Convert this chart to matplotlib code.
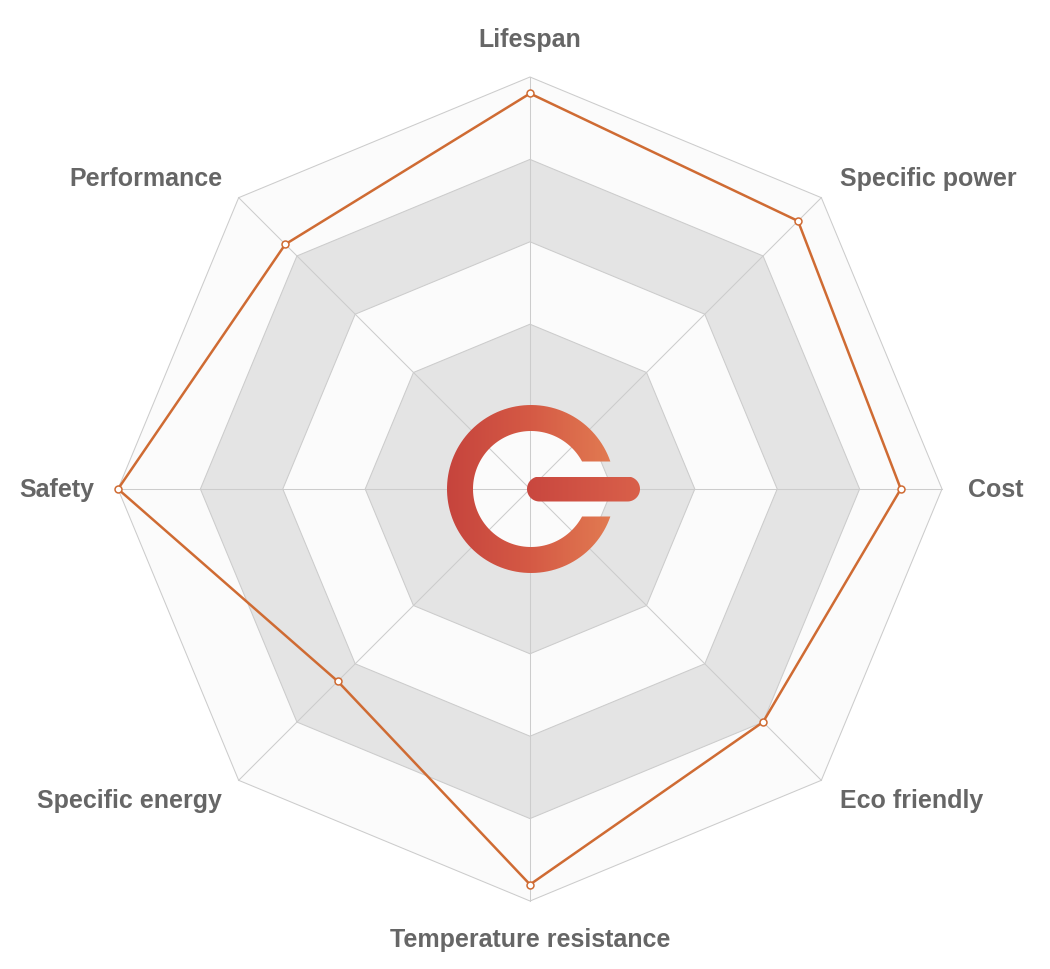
import numpy as np
import matplotlib
matplotlib.use('Agg')
import matplotlib.pyplot as plt
from matplotlib.path import Path
from matplotlib.patches import PathPatch, Polygon
from matplotlib.colors import LinearSegmentedColormap

# radar indicators, clockwise from the top
indicators = ['Lifespan', 'Specific power', 'Cost', 'Eco friendly',
              'Temperature resistance', 'Specific energy', 'Safety', 'Performance']
values = [96, 92, 90, 80, 96, 66, 100, 84]
max_value = 100
levels = 5

plt.rcParams['font.family'] = ['Liberation Sans', 'DejaVu Sans']

# figure size in pixels
my_dpi = 100
fig = plt.figure(figsize=(1050 / my_dpi, 970 / my_dpi), dpi=my_dpi)
ax = fig.add_axes([0, 0, 1, 1])
px = 412 / max_value  # pixels per value unit
ax.set_xlim(-530 / px, 520 / px)
ax.set_ylim(-480 / px, 490 / px)
ax.axis('off')

n = len(indicators)
angles = np.deg2rad(90 - 360 / n * np.arange(n))
cos, sin = np.cos(angles), np.sin(angles)

grid_color = '#cccccc'
line_color = '#cf6b33'

# split areas + split lines, outer ring first
band_colors = ['#fbfbfb', '#e4e4e4']
for k in range(levels, 0, -1):
    r = max_value * k / levels
    ax.add_patch(Polygon(np.column_stack([r * cos, r * sin]), closed=True,
                         facecolor=band_colors[(k - 1) % 2], edgecolor=grid_color,
                         lw=0.75, zorder=1))

# axis lines
for c, s in zip(cos, sin):
    ax.plot([0, max_value * c], [0, max_value * s], color=grid_color, lw=0.75, zorder=2)

# center logo: open ring + rounded bar, filled with gradients
r_out, r_in, cut, cx = 84 / px, 58 / px, 27.5 / px, 1 / px
a_out = np.degrees(np.arcsin(cut / r_out))
a_in = np.degrees(np.arcsin(cut / r_in))
t_out = np.deg2rad(np.linspace(a_out, 360 - a_out, 120))
t_in = np.deg2rad(np.linspace(360 - a_in, a_in, 120))
ring_xy = np.vstack([np.column_stack([cx + r_out * np.cos(t_out), r_out * np.sin(t_out)]),
                     np.column_stack([cx + r_in * np.cos(t_in), r_in * np.sin(t_in)])])
ring_path = Path(np.vstack([ring_xy, ring_xy[:1]]), closed=True)
ring_patch = PathPatch(ring_path, facecolor='none', edgecolor='none', zorder=3)
ax.add_patch(ring_patch)
ring_cmap = LinearSegmentedColormap.from_list('ring', ['#c6443d', '#d55a45', '#e27c52'])
im = ax.imshow(np.linspace(0, 1, 256)[None, :], cmap=ring_cmap, aspect='auto',
               extent=[cx - r_out, cx + r_out, -r_out, r_out], interpolation='bicubic',
               zorder=3)
im.set_clip_path(ring_patch)

bar_x0, bar_x1, bar_h = -3 / px, 110 / px, 25 / px
rr = bar_h / 2
t_l = np.deg2rad(np.linspace(90, 270, 40))
t_r = np.deg2rad(np.linspace(-90, 90, 40))
bar_xy = np.vstack([np.column_stack([bar_x0 + rr + rr * np.cos(t_l), rr * np.sin(t_l)]),
                    np.column_stack([bar_x1 - rr + rr * np.cos(t_r), rr * np.sin(t_r)])])
bar_patch = PathPatch(Path(np.vstack([bar_xy, bar_xy[:1]]), closed=True),
                      facecolor='none', edgecolor='none', zorder=3)
ax.add_patch(bar_patch)
bar_cmap = LinearSegmentedColormap.from_list('bar', ['#c9473f', '#d9604a'])
im2 = ax.imshow(np.linspace(0, 1, 256)[None, :], cmap=bar_cmap, aspect='auto',
                extent=[bar_x0, bar_x1, -rr, rr], interpolation='bicubic', zorder=3)
im2.set_clip_path(bar_patch)

# data series
xs = np.array(values) * cos
ys = np.array(values) * sin
ax.plot(np.append(xs, xs[0]), np.append(ys, ys[0]), color=line_color, lw=1.8, zorder=4)
ax.plot(xs, ys, 'o', ms=5, mfc='white', mec=line_color, mew=1.1, zorder=5)

# indicator names
for name, c, s in zip(indicators, cos, sin):
    ha = 'left' if c > 0.01 else ('right' if c < -0.01 else 'center')
    # right-aligned text sits a bit too far out, pull it in
    nudge = -2.5 / px if c < -0.01 else 0
    if abs(c) > 0.01 and abs(s) > 0.01:
        # diagonal axes: offset from the vertex, vertically centred
        x = max_value * c + np.sign(c) * 19 / px - nudge
        y = max_value * s + np.sign(s) * 20 / px
        va = 'center'
    else:
        x = (max_value + 26 / px) * c - nudge
        y = (max_value + 26 / px) * s
        va = 'bottom' if s > 0.01 else ('top' if s < -0.01 else 'center')
    ax.text(x, y, name, ha=ha, va=va, fontsize=18, fontweight='bold', color='#666666')

ax.set_xlim(-530 / px, 520 / px)
ax.set_ylim(-480 / px, 490 / px)

fig.savefig('out.png', dpi=my_dpi)
